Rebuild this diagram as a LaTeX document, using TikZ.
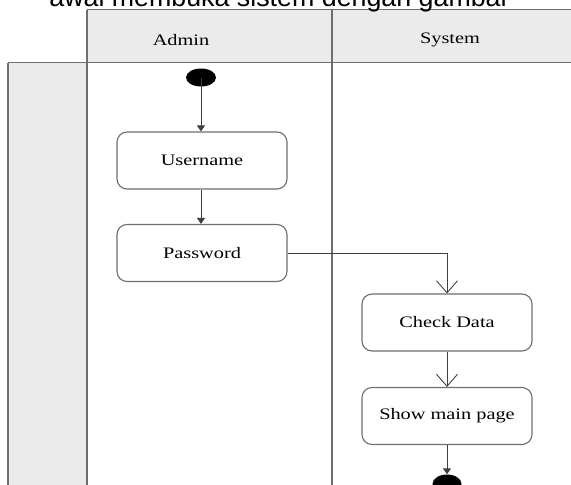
\documentclass[tikz,border=0pt]{standalone}
\usepackage{fontspec}
\usepackage{graphicx}
\setmainfont{Liberation Serif}
\newfontfamily\topfont{Liberation Sans}
\usetikzlibrary{arrows.meta,shapes.geometric}
\definecolor{lanegray}{HTML}{EBEBEB}
\definecolor{linegray}{HTML}{6E6E6E}
\definecolor{arrowgray}{HTML}{404040}
\newcommand{\sx}[1]{\scalebox{1.27}[1]{#1}}
\begin{document}
\begin{tikzpicture}[x=1pt,y=-1pt,
  act/.style={draw=linegray, line width=1.1pt, rounded corners=10pt, fill=white,
    minimum width=170pt, minimum height=57pt, inner sep=0pt,
    font=\fontsize{16}{16}\selectfont},
  lane/.style={draw=linegray, line width=1.8pt},
  hdr/.style={font=\fontsize{16}{16}\selectfont, inner sep=0pt},
  dot/.style={ellipse, fill=black, draw=none, inner sep=0pt},
  solidarrow/.style={draw=arrowgray, line width=0.9pt, -{Triangle[length=6pt,width=8pt]}},
  openarrow/.style={draw=arrowgray, line width=0.9pt,
    -{Straight Barb[length=12pt,width=21pt,line width=0.9pt]}}
]
\useasboundingbox (0,0) rectangle (571,485);
\clip (0,0) rectangle (571,485);
% fills
\fill[lanegray] (87,9.5) rectangle (580,62.5);
\fill[lanegray] (8,62.5) rectangle (87,495);
% lane lines
\draw[lane] (87,9.5) -- (580,9.5);
\draw[lane] (8,62.5) -- (580,62.5);
\draw[lane] (8,62.5) -- (8,495);
\draw[lane] (87,9.5) -- (87,495);
\draw[lane] (332,9.5) -- (332,495);
% title text (clipped at top, as in the reference)
\node[anchor=base, inner sep=0pt, font=\topfont\fontsize{26.8}{27}\selectfont] (title) at (279.5,6) {awal membuka sistem dengan gambar};
% headers
\node[hdr] (admin) at (181,40) {\sx{Admin}};
\node[hdr] (system) at (450,40) {\sx{System}};
% nodes
\node[dot, minimum width=30pt, minimum height=18pt] (start) at (201,77.5) {};
\node[act] (user) at (202,160.5) {\sx{Username}};
\node[act] (pass) at (202,253) {\sx{Password}};
\node[act] (check) at (447,322.5) {\sx{Check Data}};
\node[act] (show) at (447,416) {\sx{Show main page}};
\node[dot, minimum width=29pt, minimum height=19pt] (end) at (447,484) {};
% connectors
\draw[solidarrow] (start.center) -- (start.center |- user.north);
\draw[solidarrow] (user.south -| start.center) -- (pass.north -| start.center);
\draw[openarrow] (pass.east) -| (check.north);
\draw[openarrow] (check) -- (show);
\draw[solidarrow] (show) -- (end);
\end{tikzpicture}
\end{document}
